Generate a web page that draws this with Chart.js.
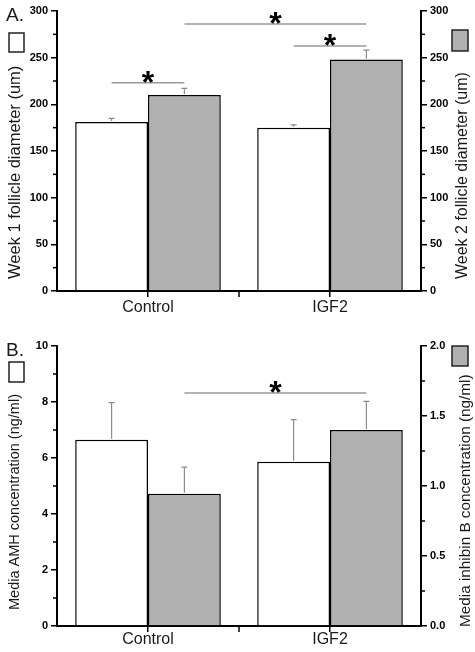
<!DOCTYPE html>
<html><head><meta charset="utf-8">
<script src="https://cdn.jsdelivr.net/npm/chart.js@4"></script>
<style>html,body{margin:0;padding:0;background:#fff;}canvas{display:block;}</style>
</head><body>
<canvas id="chartA" width="475" height="326"></canvas>
<canvas id="chartB" width="475" height="326"></canvas>
<script>
// ---------- data ----------
const categories = ['Control', 'IGF2'];
// Panel A: follicle diameter (um)
const week1Diameter = [181, 175];
const week1Err = [4, 3];
const week2Diameter = [210, 248];
const week2Err = [7, 10];
// Panel B: media hormone concentrations (ng/ml)
const amhConc = [6.65, 5.87];
const amhErr = [1.33, 1.50];
const inhibinConc = [0.945, 1.40];
const inhibinErr = [0.19, 0.205];
// significance brackets: [dataset, category] -> [dataset, category], level on left axis
const sigA = [
  { from: [0, 0], to: [1, 0], level: 223 },
  { from: [1, 0], to: [1, 1], level: 286 },
  { from: [0, 1], to: [1, 1], level: 262.5 }
];
const sigB = [
  { from: [1, 0], to: [1, 1], level: 8.32 }
];

Chart.defaults.font.family = '"Liberation Sans", Arial, sans-serif';
Chart.defaults.color = '#1a1a1a';

const GRAY = '#b0b0b0';

const decor = {
  id: 'decor',
  afterDatasetsDraw(chart, args, o) {
    const ctx = chart.ctx;
    ctx.save();
    // error bars (upper only)
    o.errors.forEach((errs, di) => {
      const meta = chart.getDatasetMeta(di);
      const ys = chart.scales[meta.yAxisID];
      meta.data.forEach((bar, i) => {
        const v = chart.data.datasets[di].data[i];
        const yTop = ys.getPixelForValue(v + errs[i]);
        ctx.strokeStyle = '#8c8c8c';
        ctx.lineWidth = 1.2;
        ctx.beginPath();
        ctx.moveTo(bar.x, bar.y - 1);
        ctx.lineTo(bar.x, yTop);
        ctx.moveTo(bar.x - 3, yTop);
        ctx.lineTo(bar.x + 3, yTop);
        ctx.stroke();
      });
    });
    // minor ticks on y axes
    ['y', 'y2'].forEach(id => {
      const s = chart.scales[id];
      const step = s.ticks.length > 1 ? s.ticks[1].value - s.ticks[0].value : 1;
      ctx.strokeStyle = '#000';
      ctx.lineWidth = 1.5;
      for (let k = 0; k < s.ticks.length - 1; k++) {
        const py = s.getPixelForValue(s.ticks[k].value + step / 2);
        ctx.beginPath();
        if (id === 'y') { ctx.moveTo(chart.chartArea.left - 4, py); ctx.lineTo(chart.chartArea.left, py); }
        else { ctx.moveTo(chart.chartArea.right, py); ctx.lineTo(chart.chartArea.right + 4, py); }
        ctx.stroke();
      }
    });
    // boundary ticks on x axis
    const xs = chart.scales.x;
    for (let i = 0; i < categories.length - 1; i++) {
      const px = (xs.getPixelForValue(i) + xs.getPixelForValue(i + 1)) / 2;
      ctx.beginPath();
      ctx.moveTo(px, chart.chartArea.bottom);
      ctx.lineTo(px, chart.chartArea.bottom + 6);
      ctx.stroke();
    }
    // significance brackets
    const yl = chart.scales.y;
    o.sig.forEach(s => {
      const b1 = chart.getDatasetMeta(s.from[0]).data[s.from[1]];
      const b2 = chart.getDatasetMeta(s.to[0]).data[s.to[1]];
      const py = yl.getPixelForValue(s.level);
      ctx.strokeStyle = '#9a9a9a';
      ctx.lineWidth = 1.5;
      ctx.beginPath();
      ctx.moveTo(b1.x, py);
      ctx.lineTo(b2.x, py);
      ctx.stroke();
      ctx.fillStyle = '#000';
      ctx.font = 'bold 32px "Liberation Sans", Arial, sans-serif';
      ctx.textAlign = 'center';
      ctx.textBaseline = 'alphabetic';
      ctx.fillText('*', (b1.x + b2.x) / 2, py + 10);
    });
    // axis titles
    o.titles.forEach(t => {
      ctx.save();
      ctx.translate(t.x, t.bottom);
      ctx.rotate(-Math.PI / 2);
      ctx.font = t.size + 'px "Liberation Sans", Arial, sans-serif';
      ctx.fillStyle = '#1a1a1a';
      ctx.textAlign = 'left';
      ctx.textBaseline = 'middle';
      ctx.fillText(t.text, 0, 0);
      ctx.restore();
    });
    // legend squares
    o.keys.forEach(k => {
      ctx.fillStyle = k.fill;
      ctx.fillRect(k.x, k.y, k.w, k.h);
      ctx.strokeStyle = '#222';
      ctx.lineWidth = 1.5;
      ctx.strokeRect(k.x, k.y, k.w, k.h);
    });
    // panel letter
    ctx.fillStyle = '#1a1a1a';
    ctx.font = '19px "Liberation Sans", Arial, sans-serif';
    ctx.textAlign = 'left';
    ctx.textBaseline = 'alphabetic';
    ctx.fillText(o.letter, 6, o.letterY);
    ctx.restore();
  }
};

function makeChart(id, cfg) {
  const yAxis = (pos, max, step, width, fmt) => ({
    type: 'linear', position: pos, min: 0, max: max,
    afterFit: s => { s.width = width; },
    ticks: { stepSize: step, color: '#000', padding: 3,
      font: { size: 11, weight: 'bold' },
      callback: fmt },
    grid: { drawOnChartArea: false, drawTicks: true, tickLength: 6, color: '#000', lineWidth: 1.5 },
    border: { display: true, color: '#000', width: 2 }
  });
  return new Chart(document.getElementById(id), {
    type: 'bar',
    data: {
      labels: categories,
      datasets: [
        { data: cfg.d1, yAxisID: 'y', backgroundColor: '#ffffff', borderColor: '#000', borderWidth: 1.5,
          categoryPercentage: 0.8, barPercentage: 1.0 },
        { data: cfg.d2, yAxisID: 'y2', backgroundColor: GRAY, borderColor: '#000', borderWidth: 1.5,
          categoryPercentage: 0.8, barPercentage: 1.0 }
      ]
    },
    options: {
      responsive: false, animation: false, devicePixelRatio: 1,
      layout: { padding: { top: cfg.top, left: 0, right: 0, bottom: 0 } },
      plugins: {
        legend: { display: false }, tooltip: { enabled: false },
        decor: { errors: [cfg.e1, cfg.e2], sig: cfg.sig, titles: cfg.titles, keys: cfg.keys,
          letter: cfg.letter, letterY: cfg.letterY }
      },
      scales: {
        x: {
          afterFit: s => { s.height = cfg.xh; },
          ticks: { color: '#1a1a1a', font: { size: 16 }, padding: cfg.xpad },
          grid: { offset: false, drawOnChartArea: false, drawTicks: true, tickLength: 6, color: '#000', lineWidth: 1.5 },
          border: { display: true, color: '#000', width: 2 }
        },
        y: yAxis('left', cfg.max1, cfg.step1, 57, cfg.fmt1),
        y2: yAxis('right', cfg.max2, cfg.step2, 54, cfg.fmt2)
      }
    },
    plugins: [decor]
  });
}

makeChart('chartA', {
  d1: week1Diameter, e1: week1Err, d2: week2Diameter, e2: week2Err,
  max1: 300, step1: 50, max2: 300, step2: 50,
  fmt1: v => v, fmt2: v => v,
  top: 11, xh: 35, xpad: 1, sig: sigA,
  titles: [
    { text: 'Week 1 follicle diameter (um)', x: 15, bottom: 279, size: 16.5 },
    { text: 'Week 2 follicle diameter (um)', x: 463, bottom: 279, size: 16 }
  ],
  keys: [
    { x: 9, y: 33, w: 15, h: 19, fill: '#fff' },
    { x: 452, y: 30, w: 16, h: 21, fill: GRAY }
  ],
  letter: 'A.', letterY: 21
});

makeChart('chartB', {
  d1: amhConc, e1: amhErr, d2: inhibinConc, e2: inhibinErr,
  max1: 10, step1: 2, max2: 2, step2: 0.5,
  fmt1: v => v, fmt2: v => Number(v).toFixed(1),
  top: 20, xh: 26, xpad: -2, sig: sigB,
  titles: [
    { text: 'Media AMH concentration (ng/ml)', x: 15, bottom: 284, size: 14.5 },
    { text: 'Media inhibin B concentration (ng/ml)', x: 466, bottom: 301, size: 15.3 }
  ],
  keys: [
    { x: 9, y: 36, w: 15, h: 20, fill: '#fff' },
    { x: 452, y: 20, w: 16, h: 20, fill: GRAY }
  ],
  letter: 'B.', letterY: 30
});
</script>
</body></html>
